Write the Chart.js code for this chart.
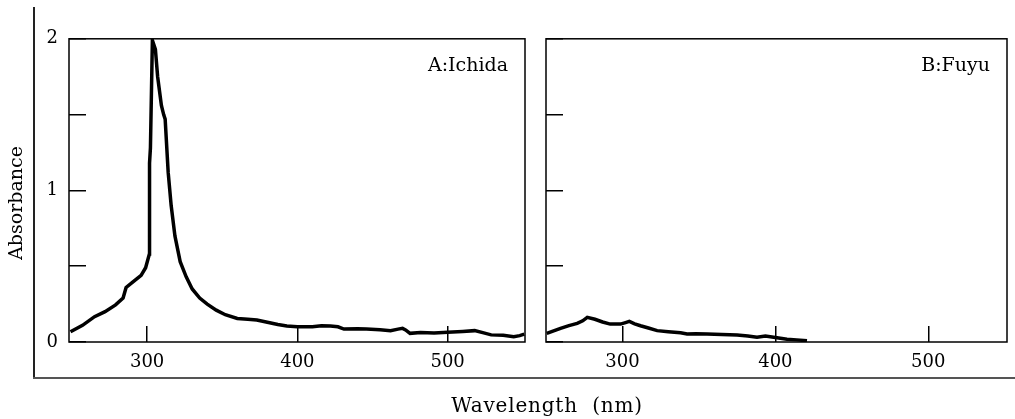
<!DOCTYPE html>
<html lang="en">
<head>
<meta charset="UTF-8">
<title>Absorbance spectra</title>
<script src="https://cdn.jsdelivr.net/npm/chart.js"></script>
<style>
  body { margin: 0; background: #fff; width: 1015px; height: 419px; position: relative; overflow: hidden; font-family: "DejaVu Serif", serif; color: #000; }
  canvas { position: absolute; top: 0; }
  #chartA { left: 0; }
  #chartB { left: 535px; }
  #frameLeft { position: absolute; left: 33px; top: 7px; width: 1.5px; height: 371px; background: #222; }
  #frameBottom { position: absolute; left: 33px; top: 377px; width: 982px; height: 2px; background: #555; }
  #yTitle { position: absolute; left: 15px; top: 203px; transform: translate(-50%, -50%) rotate(-90deg); white-space: nowrap; font-size: 19px; }
  #xTitle { position: absolute; left: 547px; top: 405px; transform: translate(-50%, -50%); white-space: nowrap; font-size: 20px; letter-spacing: 0.8px; }
</style>
</head>
<body>
  <canvas id="chartA" width="540" height="419"></canvas>
  <canvas id="chartB" width="480" height="419"></canvas>
  <div id="frameLeft"></div>
  <div id="frameBottom"></div>
  <div id="yTitle">Absorbance</div>
  <div id="xTitle">Wavelength&nbsp;&nbsp;(nm)</div>

<script>
// A: Ichida
const wavelengthA = [249, 257, 265, 272, 279, 284, 286, 291, 296, 299, 301.5, 301.6, 302.2, 303.5, 304.5, 305.5, 307, 309.5, 311, 312, 314, 316, 318.5, 322, 326, 330, 335, 340, 346, 352, 360, 367, 373, 380, 387, 393, 400, 410, 416, 422, 427, 431, 440, 446, 455, 462, 467, 470, 472, 475, 482, 491, 500, 510, 518, 524, 529, 537, 544, 548, 551]
const absorbanceA = [0.068, 0.11, 0.167, 0.2, 0.245, 0.29, 0.36, 0.4, 0.44, 0.49, 0.58, 1.18, 1.28, 1.99, 1.96, 1.93, 1.75, 1.56, 1.5, 1.47, 1.12, 0.9, 0.7, 0.53, 0.43, 0.35, 0.29, 0.25, 0.21, 0.18, 0.155, 0.15, 0.145, 0.13, 0.115, 0.105, 0.1, 0.1, 0.107, 0.105, 0.1, 0.085, 0.088, 0.085, 0.08, 0.075, 0.085, 0.09, 0.08, 0.057, 0.062, 0.06, 0.065, 0.07, 0.075, 0.06, 0.047, 0.045, 0.035, 0.042, 0.052]

// B: Fuyu
const wavelengthB = [250.5, 259.5, 265, 270.4, 274, 277, 282, 287, 292, 298.7, 302, 304.5, 308, 311.8, 317, 322.7, 330, 338, 342.3, 348, 355.3, 365, 375, 382, 388, 393.5, 400, 407.6, 414, 420.7]
const absorbanceB = [0.057, 0.09, 0.108, 0.123, 0.14, 0.163, 0.15, 0.132, 0.118, 0.118, 0.128, 0.136, 0.12, 0.107, 0.092, 0.075, 0.068, 0.061, 0.053, 0.055, 0.053, 0.05, 0.046, 0.04, 0.031, 0.04, 0.03, 0.018, 0.014, 0.009]

const xTicks = [300, 400, 500]
const yTicks = [0, 0.5, 1, 1.5, 2]
const yLabels = [0, 1, 2]

const framePlugin = {
    id: 'frame',
    afterDraw(chart) {
        const a = chart.chartArea
        const ctx = chart.ctx
        ctx.save()
        ctx.strokeStyle = '#000'
        ctx.lineWidth = 1.5
        ctx.strokeRect(a.left, a.top, a.right - a.left, a.bottom - a.top)
        ctx.restore()
    }
}

function panelLabel(text) {
    return {
        id: 'panelLabel',
        afterDraw(chart) {
            const a = chart.chartArea
            const ctx = chart.ctx
            ctx.save()
            ctx.font = '19px "DejaVu Serif"'
            ctx.fillStyle = '#000'
            ctx.textAlign = 'right'
            ctx.textBaseline = 'alphabetic'
            ctx.fillText(text, a.right - 17, a.top + 32)
            ctx.restore()
        }
    }
}

function CrearPanel(id, xs, ys, xMin, xMax, text, yWidth, padRight, showY) {
    const puntos = xs.map((x, i) => ({ x: x, y: ys[i] }))
    return new Chart(document.getElementById(id), {
        type: 'line',
        data: {
            datasets: [{
                data: puntos,
                borderColor: '#000',
                borderWidth: 3.5,
                pointRadius: 0,
                tension: 0,
                fill: false
            }]
        },
        options: {
            responsive: false,
            animation: false,
            layout: { padding: { left: 0, right: padRight, top: 38, bottom: 0 } },
            plugins: { legend: { display: false }, tooltip: { enabled: false } },
            scales: {
                x: {
                    type: 'linear',
                    min: xMin,
                    max: xMax,
                    afterBuildTicks: s => { s.ticks = xTicks.map(v => ({ value: v })) },
                    afterFit: s => { s.height = 77 },
                    border: { display: false },
                    grid: { drawOnChartArea: false, drawTicks: true, tickLength: -16, color: '#000', lineWidth: 1.5 },
                    ticks: { padding: 26, color: '#000', maxRotation: 0, autoSkip: false, font: { family: 'DejaVu Serif', size: 18 } }
                },
                y: {
                    type: 'linear',
                    min: 0,
                    max: 2,
                    afterBuildTicks: s => { s.ticks = yTicks.map(v => ({ value: v })) },
                    afterFit: s => { s.width = yWidth },
                    border: { display: false },
                    grid: { drawOnChartArea: false, drawTicks: true, tickLength: -17, color: '#000', lineWidth: 1.5 },
                    ticks: {
                        padding: 28,
                        color: '#000',
                        font: { family: 'DejaVu Serif', size: 18 },
                        callback: v => (showY && yLabels.includes(v)) ? String(v) : ''
                    }
                }
            }
        },
        plugins: [framePlugin, panelLabel(text)]
    })
}

CrearPanel('chartA', wavelengthA, absorbanceA, 248, 551.5, 'A:Ichida', 69, 15, true)
CrearPanel('chartB', wavelengthB, absorbanceB, 250, 551.5, 'B:Fuyu', 11, 8, false)
</script>
</body>
</html>
